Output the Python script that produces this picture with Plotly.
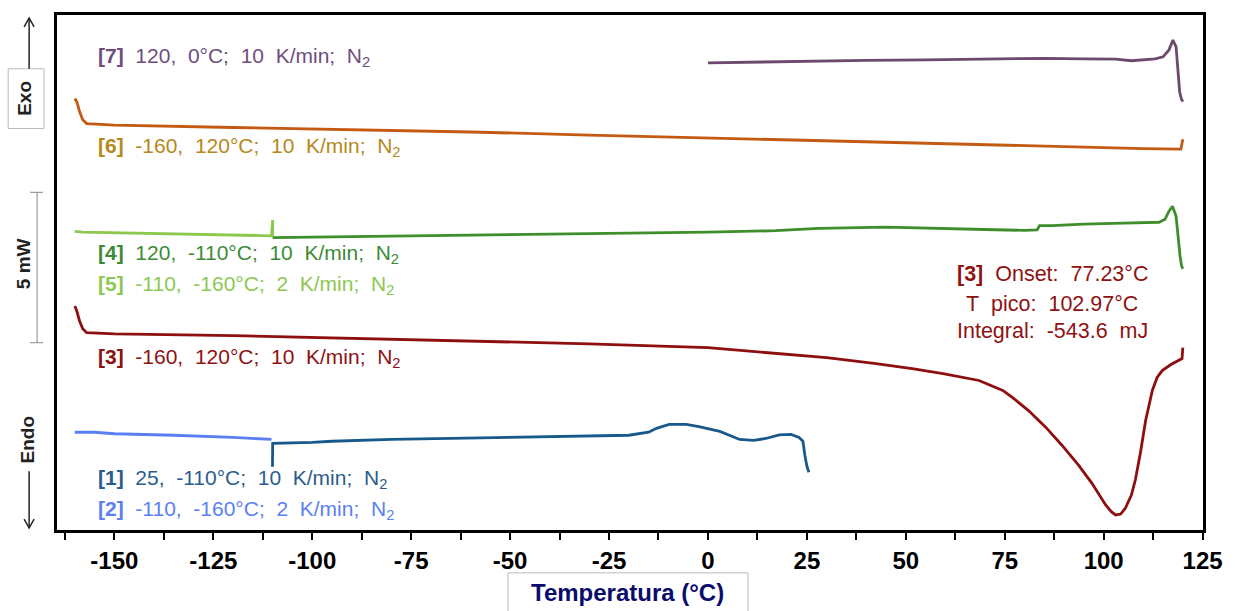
import plotly.graph_objects as go

# ---------------- data (temperature in °C, heat flow in mW, curves offset) ----------------
t7 = [0, 9, 18, 28, 40, 55, 70, 85, 95, 103, 107, 110, 113, 115, 116.5, 117.5, 118.3, 118.8, 119.2, 119.6, 120]
h7 = [15.53, 15.55, 15.56, 15.60, 15.61, 15.63, 15.66, 15.68, 15.66, 15.65, 15.60, 15.63, 15.66, 15.73, 15.96,
      16.29, 16.06, 15.23, 14.57, 14.34, 14.24]

t6 = [-160, -159.5, -158.8, -158, -157, -150, -120, -90, -60, -30, 0, 30, 60, 90, 110, 119.5, 120]
h6 = [14.34, 14.24, 13.91, 13.64, 13.51, 13.46, 13.38, 13.31, 13.23, 13.13, 13.03, 12.95, 12.85, 12.75, 12.68,
      12.66, 12.99]

t5 = [-110, -110, -110.3, -120, -135, -150, -158, -160]
h5 = [9.78, 10.30, 9.78, 9.80, 9.83, 9.87, 9.90, 9.93]

t4 = [120, 119.7, 119.3, 118.8, 118.3, 117.4, 116.5, 115.5, 114, 105, 95, 87, 83.8, 83.2, 80, 70, 55, 45, 28, 17,
      0, -20, -50, -80, -100, -110]
h4 = [8.68, 8.77, 9.11, 9.77, 10.43, 10.76, 10.60, 10.33, 10.23, 10.20, 10.17, 10.12, 10.12, 9.98, 9.96, 9.99,
      10.05, 10.07, 10.03, 9.95, 9.90, 9.87, 9.82, 9.77, 9.74, 9.72]

t3 = [-160, -159.5, -158.8, -158, -157, -150, -120, -90, -60, -30, 0, 17, 30, 42.5, 52, 59.4, 68.5, 74.5, 77, 81,
      85.4, 89.5, 93.7, 97, 100.5, 102, 103, 104.3, 105.5, 107, 108, 109.3, 110.6, 112.3, 113.5, 114.8, 117, 119.8,
      120]
h3 = [7.45, 7.28, 6.95, 6.69, 6.56, 6.52, 6.46, 6.37, 6.29, 6.19, 6.06, 5.88, 5.73, 5.53, 5.36, 5.20, 4.97, 4.64,
      4.40, 3.97, 3.41, 2.81, 2.15, 1.56, 0.83, 0.60, 0.50, 0.53, 0.73, 1.16, 1.66, 2.58, 3.64, 4.64, 5.07, 5.30,
      5.50, 5.70, 6.06]

t2 = [-110.3, -120, -135, -150, -155, -160]
h2 = [3.01, 3.08, 3.15, 3.20, 3.25, 3.25]

t1 = [25.5, 25, 24.5, 24, 23, 21, 18, 14.9, 11.6, 8, 3, -2.3, -5.5, -9.8, -13, -15, -20, -40, -60, -80, -95, -100,
      -110, -110.05]
h1 = [1.92, 2.12, 2.48, 2.95, 3.08, 3.18, 3.16, 3.05, 2.98, 3.01, 3.28, 3.44, 3.51, 3.51, 3.38, 3.25, 3.15, 3.11,
      3.06, 3.01, 2.95, 2.91, 2.88, 2.10]

x_ticks = [-150, -125, -100, -75, -50, -25, 0, 25, 50, 75, 100, 125]

S = "\u00a0 "  # wide gap as in the reference typesetting
labels = [
    ("[7]", ["120,", "0°C;", "10", "K/min;", "N<sub>2</sub>"], 15.73, "#6E4E7E"),
    ("[6]", ["-160,", "120°C;", "10", "K/min;", "N<sub>2</sub>"], 12.72, "#B5891C"),
    ("[4]", ["120,", "-110°C;", "10", "K/min;", "N<sub>2</sub>"], 9.17, "#3D8B37"),
    ("[5]", ["-110,", "-160°C;", "2", "K/min;", "N<sub>2</sub>"], 8.15, "#8DC852"),
    ("[3]", ["-160,", "120°C;", "10", "K/min;", "N<sub>2</sub>"], 5.73, "#8E1212"),
    ("[1]", ["25,", "-110°C;", "10", "K/min;", "N<sub>2</sub>"], 1.69, "#2A5D8C"),
    ("[2]", ["-110,", "-160°C;", "2", "K/min;", "N<sub>2</sub>"], 0.66, "#5B7FF0"),
]
peak_info = [["<b>[3]</b>", "Onset:", "77.23°C"], ["T", "pico:", "102.97°C"], ["Integral:", "-543.6", "mJ"]]

# ---------------- styles ----------------
FONT = "Arial, Liberation Sans, sans-serif"
W, H = 1235, 611
L, R, T, B = 57, 1208, 13, 530


def pxx(x):
    return (x - L) / (R - L)


def pxy(y):
    return (B - y) / (B - T)


fig = go.Figure()
curves = [
    (t2, h2, "#5B7FF2"),
    (t1, h1, "#17598A"),
    (t3, h3, "#8E0F0F"),
    (t5, h5, "#8CC84B"),
    (t4, h4, "#3E8E2C"),
    (t6, h6, "#C45A12"),
    (t7, h7, "#6B4A6E"),
]
for tx, hy, col in curves:
    fig.add_trace(go.Scatter(x=tx, y=hy, mode="lines", line=dict(color=col, width=2.8),
                             showlegend=False, hoverinfo="skip"))

ann = []
for tag, words, yv, col in labels:
    ann.append(dict(x=-154.7, y=yv, xref="x", yref="y", xanchor="left", yanchor="middle",
                    text="<b>" + tag + "</b>" + S + S.join(words), showarrow=False,
                    font=dict(family=FONT, size=21, color=col)))
for words, yv in zip(peak_info, [8.51, 7.52, 6.62]):
    ann.append(dict(x=87.0, y=yv, xref="x", yref="y", xanchor="center", yanchor="middle",
                    text=S.join(words), showarrow=False, font=dict(family=FONT, size=21.5, color="#8E1212")))

# left side decorations
side = dict(xref="paper", yref="paper", textangle=-90, showarrow=False, xanchor="center", yanchor="middle",
            font=dict(family=FONT, size=19, color="#222222"))
ann.append(dict(x=pxx(25), y=pxy(97), text="<b>Exo</b>", **side))
ann.append(dict(x=pxx(23), y=pxy(263), text="<b>5 mW</b>", **side))
ann.append(dict(x=pxx(27), y=pxy(439), text="<b>Endo</b>", **side))
ann.append(dict(x=pxx(630), y=pxy(593), xref="paper", yref="paper", text="<b>Temperatura (°C)</b>",
                xanchor="center", yanchor="middle",
                showarrow=False, font=dict(family=FONT, size=24, color="#0B0B6E")))

shapes = []
grey = "#BBBBBB"
dark = "#222222"
# Exo box and arrow
shapes.append(dict(type="rect", xref="paper", yref="paper", x0=pxx(8), x1=pxx(44), y0=pxy(127), y1=pxy(67),
                   line=dict(color=grey, width=1)))
shapes.append(dict(type="line", xref="paper", yref="paper", x0=pxx(29), x1=pxx(29), y0=pxy(67), y1=pxy(16),
                   line=dict(color=dark, width=1.5)))
shapes.append(dict(type="path", xref="paper", yref="paper",
                   path=f"M {pxx(24)} {pxy(25)} L {pxx(29)} {pxy(16)} L {pxx(34)} {pxy(25)}",
                   line=dict(color=dark, width=1.5)))
# Endo arrow
shapes.append(dict(type="line", xref="paper", yref="paper", x0=pxx(29), x1=pxx(29), y0=pxy(471), y1=pxy(528),
                   line=dict(color=dark, width=1.5)))
shapes.append(dict(type="path", xref="paper", yref="paper",
                   path=f"M {pxx(24)} {pxy(519)} L {pxx(29)} {pxy(528)} L {pxx(34)} {pxy(519)}",
                   line=dict(color=dark, width=1.5)))
# 5 mW scale bar
shapes.append(dict(type="line", xref="paper", yref="paper", x0=pxx(37), x1=pxx(37), y0=pxy(191), y1=pxy(342),
                   line=dict(color="#888888", width=1)))
for yy in (191, 342):
    shapes.append(dict(type="line", xref="paper", yref="paper", x0=pxx(30), x1=pxx(43), y0=pxy(yy), y1=pxy(yy),
                       line=dict(color="#888888", width=1)))
# axis title box
shapes.append(dict(type="rect", xref="paper", yref="paper", x0=pxx(510), x1=pxx(751), y0=pxy(613), y1=pxy(573),
                   line=dict(color=grey, width=1)))

fig.update_layout(
    width=W, height=H,
    margin=dict(l=L, r=W - R, t=T, b=H - B, pad=0),
    paper_bgcolor="white", plot_bgcolor="white",
    annotations=ann, shapes=shapes,
    xaxis=dict(range=[-164.5, 125.1], tickvals=x_ticks, ticktext=[str(v) for v in x_ticks],
               ticks="outside", ticklen=7, tickwidth=2, tickcolor="black",
               minor=dict(dtick=12.5, tick0=-162.5, ticks="outside", ticklen=7, tickwidth=2, tickcolor="black"),
               showline=True, linecolor="black", linewidth=3, mirror=True, showgrid=False, zeroline=False,
               tickfont=dict(family=FONT, size=24, color="black", weight="bold")),
    yaxis=dict(range=[0, 17.12], showticklabels=False, ticks="", showline=True, linecolor="black",
               linewidth=3, mirror=True, showgrid=False, zeroline=False),
)

fig.write_html("out.html")
